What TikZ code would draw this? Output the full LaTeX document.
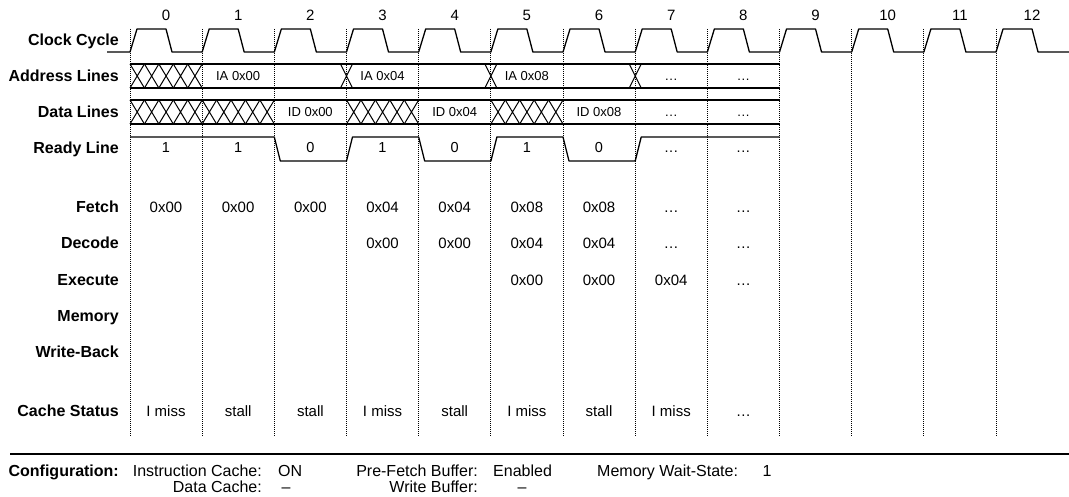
\documentclass[tikz,border=0pt]{standalone}
\usepackage{fontspec}
\setmainfont{Liberation Sans}
\usepackage{tikz}
\usetikzlibrary{positioning}

\newcommand{\cyc}{72.17}
\newcommand{\dts}{.\kern0.6pt.\kern0.6pt.}

\begin{document}
\begin{tikzpicture}[x=1pt,y=-1pt,
  every node/.style={inner sep=0pt},
  lbl/.style={anchor=base east,font=\fontsize{16}{18}\selectfont\bfseries},
  num/.style={anchor=base,font=\fontsize{15}{17}\selectfont},
  sig/.style={anchor=base,font=\fontsize{13}{15}\selectfont},
  rdy/.style={anchor=base,font=\fontsize{14.5}{16}\selectfont},
  val/.style={anchor=base,font=\fontsize{15}{17}\selectfont},
  cfg/.style={font=\fontsize{16}{18}\selectfont},
  grid/.style={densely dotted,line width=1pt},
  wave/.style={line width=1.3pt,line join=round},
  hatch/.style={line width=1pt}]
\useasboundingbox (0,0) rectangle (1069,497);

% cycle boundaries
\foreach \i in {0,...,12}
  \draw[grid] ({130+\cyc*\i},29) -- ({130+\cyc*\i},437);

% row labels
\node[lbl] (lclk) at (119,46) {Clock Cycle};
\node[lbl] (ladr) at (119,82) {Address Lines};
\node[lbl] (ldat) at (119,118) {Data Lines};
\node[lbl] (lrdy) at (119,154) {Ready Line};
\node[lbl] (lfet) at (119,213) {Fetch};
\node[lbl] (ldec) at (119,249) {Decode};
\node[lbl] (lexe) at (119,286) {Execute};
\node[lbl] (lmem) at (119,322) {Memory};
\node[lbl] (lwb) at (119,357) {Write-Back};
\node[lbl] (lcs) at (119,416) {Cache Status};

% clock
\foreach \i in {0,...,12}
  \node[num] (c\i) at ({166+\cyc*\i},21) {\i};
\draw[wave] (107,52) \foreach \i in {0,...,12}{
  -- ({130+\cyc*\i},52) -- ({137+\cyc*\i},29) -- ({166+\cyc*\i},29) -- ({172+\cyc*\i},52)}
  -- (1069,52);

% address bus
\draw[wave] (130,64) -- (779.5,64) (130,88) -- (779.5,88);
\foreach \k in {1,...,5}
  \draw[hatch] ({130+14.434*(\k-1)},64) -- ({130+14.434*\k},88)
               ({130+14.434*(\k-1)},88) -- ({130+14.434*\k},64);
\foreach \i in {3,5,7}
  \draw[hatch] ({130+\cyc*\i-6},64) -- ({130+\cyc*\i+6},88)
               ({130+\cyc*\i-6},88) -- ({130+\cyc*\i+6},64);
\foreach \i/\t in {1/IA 0x00,3/IA 0x04,5/IA 0x08,7/\dts,8/\dts}
  \node[sig] (a\i) at ({166+\cyc*\i},81) {\t};

% data bus
\draw[wave] (130,100) -- (779.5,100) (130,124) -- (779.5,124);
\foreach \s/\n in {0/10,3/5,5/5}{
  \foreach \k in {1,...,\n}
    \draw[hatch] ({130+\cyc*\s+14.434*(\k-1)},100) -- ({130+\cyc*\s+14.434*\k},124)
                 ({130+\cyc*\s+14.434*(\k-1)},124) -- ({130+\cyc*\s+14.434*\k},100);
}
\foreach \i/\t in {2/ID 0x00,4/ID 0x04,6/ID 0x08,7/\dts,8/\dts}
  \node[sig] (d\i) at ({166+\cyc*\i},117) {\t};

% ready line
\draw[wave] (130,137) -- (274.3,137) -- (280.3,161) -- (346.5,161) -- (352.5,137)
  -- (418.7,137) -- (424.7,161) -- (490.9,161) -- (496.9,137) -- (563,137)
  -- (569,161) -- (635.2,161) -- (641.2,137) -- (779.5,137);
\foreach \i/\t in {0/1,1/1,2/0,3/1,4/0,5/1,6/0,7/\dts,8/\dts}
  \node[rdy] (r\i) at ({166+\cyc*\i},153) {\t};

% pipeline stages
\foreach \i/\t in {0/0x00,1/0x00,2/0x00,3/0x04,4/0x04,5/0x08,6/0x08,7/\dts,8/\dts}
  \node[val] (f\i) at ({166+\cyc*\i},213) {\t};
\foreach \i/\t in {3/0x00,4/0x00,5/0x04,6/0x04,7/\dts,8/\dts}
  \node[val] (de\i) at ({166+\cyc*\i},249) {\t};
\foreach \i/\t in {5/0x00,6/0x00,7/0x04,8/\dts}
  \node[val] (e\i) at ({166+\cyc*\i},286) {\t};
\foreach \i/\t in {0/I miss,1/stall,2/stall,3/I miss,4/stall,5/I miss,6/stall,7/I miss,8/\dts}
  \node[val] (cs\i) at ({166+\cyc*\i},416) {\t};

% configuration
\draw[line width=1.3pt] (10,454) -- (1069,454);
\node[lbl] (conf) at (119,476) {Configuration:};
\node[cfg,anchor=base east] (ic) at (262,476) {Instruction Cache:};
\node[cfg,anchor=base west] (icv) at (278,476) {ON};
\node[cfg,anchor=base east] (dc) at (262,492) {Data Cache:};
\node[cfg,anchor=base] (dcv) at (286,492) {--};
\node[cfg,anchor=base east] (pf) at (478,476) {Pre-Fetch Buffer:};
\node[cfg,anchor=base west] (pfv) at (493,476) {Enabled};
\node[cfg,anchor=base east] (wb) at (478,492) {Write Buffer:};
\node[cfg,anchor=base] (wbv) at (522,492) {--};
\node[cfg,anchor=base west] (mw) at (597,476) {Memory Wait-State:};
\node[cfg,anchor=base] (mwv) at (767,476) {1};
\end{tikzpicture}
\end{document}
